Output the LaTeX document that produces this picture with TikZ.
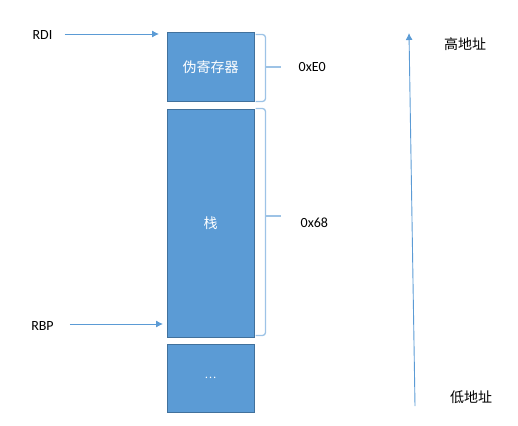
\documentclass[tikz,border=0pt]{standalone}
\usepackage{fontspec}
\setmainfont{Carlito}
\newfontfamily\cjk{Noto Sans CJK SC}
\usetikzlibrary{positioning,arrows.meta}
\definecolor{boxblue}{HTML}{5B9BD5}
\definecolor{boxedge}{HTML}{41719C}
\definecolor{bracecol}{HTML}{9DC3E6}
\tikzstyle{block} = [rectangle, draw=boxedge, line width=1pt, fill=boxblue, text=white, minimum width=87pt, inner sep=0pt, font=\cjk\fontsize{14}{16}\selectfont]
\tikzstyle{line} = [draw=boxblue, line width=0.9pt, -{Latex[length=7pt, width=7pt]}]
\tikzstyle{bracket} = [draw=bracecol, line width=1.3pt, rounded corners=3pt]
\tikzstyle{tag} = [inner sep=0pt, font=\fontsize{14}{16}\selectfont]
\tikzstyle{cjktag} = [inner sep=0pt, font=\cjk\fontsize{14}{16}\selectfont]

\begin{document}
\begin{tikzpicture}[x=1pt, y=-1pt, node distance=6pt]
      \useasboundingbox (0,0) rectangle (518,425);
      \node [block, minimum height=68pt] (pseudo) at (210.5,67) {伪寄存器};
      \node [block, minimum height=228pt, below=7pt of pseudo] (stack) {栈};
      \node [block, minimum height=68pt, below=6pt of stack] (more) {\fontsize{11}{12}\selectfont\raisebox{-2pt}{\ldots}};

      \node [tag] (rdi) at (42.5,35) {RDI};
      \node [tag] (rbp) at (42.5,326) {RBP};
      \coordinate (rdiend) at (159,34);
      \coordinate (rbpend) at (163,324);
      \path [line] (rdi.east) ++(12,-1) -- (rdiend);
      \path [line] (rbp.east) ++(16,-2) -- (rbpend);

      % size brackets
      \path [bracket] ([shift={(1,2)}]pseudo.north east) -| ([xshift=11pt]pseudo.east) |- ([xshift=1pt]pseudo.south east);
      \path [bracket] ([xshift=11pt]pseudo.east) -- ++(15,0);
      \path [bracket] ([xshift=1pt]stack.north east) -| ([shift={(11,-7)}]stack.east) |- ([shift={(1,-2)}]stack.south east);
      \path [bracket] ([shift={(11,-7)}]stack.east) -- ++(15,0);
      \node [tag, right=44pt of pseudo] (sizea) {0xE0};
      \node [tag, right=46pt of stack] (sizeb) {0x68};

      \coordinate (lowend) at (415,406);
      \coordinate (highend) at (409,33);
      \path [line] (lowend) -- (highend);
      \node [cjktag] (high) at (465,44) {高地址};
      \node [cjktag] (low) at (471,397) {低地址};
    \end{tikzpicture}
\end{document}
